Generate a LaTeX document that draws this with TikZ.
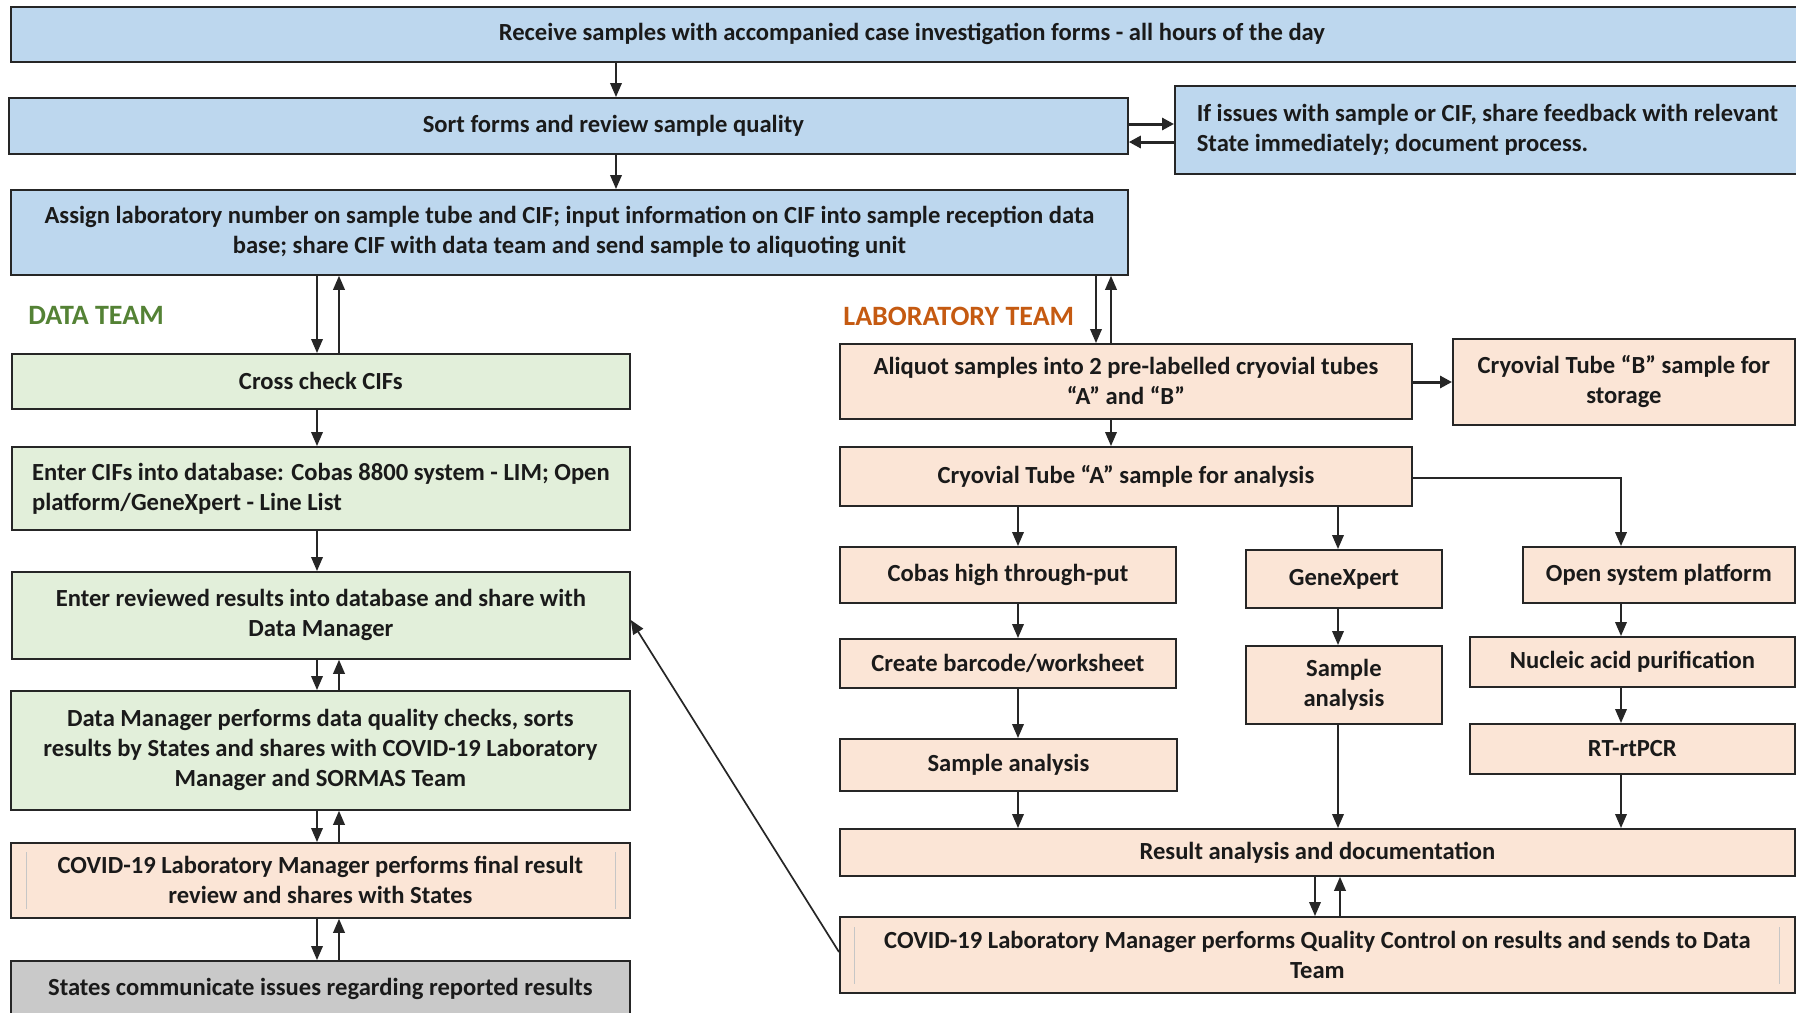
\documentclass[tikz,border=0pt]{standalone}
\usepackage{fontspec}
\setmainfont{Carlito}
\usetikzlibrary{arrows.meta,calc}
\definecolor{bluef}{HTML}{BDD7EE}
\definecolor{greenf}{HTML}{E2EFDA}
\definecolor{peachf}{HTML}{FBE5D6}
\definecolor{grayf}{HTML}{C9C9C9}
\definecolor{datagreen}{HTML}{548235}
\definecolor{laborange}{HTML}{C55A11}
\definecolor{edgec}{HTML}{262626}
\definecolor{txt}{HTML}{1A1A1A}
\newcommand\flowbox[7]{\node[#2, anchor=north west, minimum width={(#5-#3)*0.5pt}, minimum height={(#6-#4)*0.5pt}] (#1) at (#3,#4) {#7};}
\tikzset{
  box/.style={draw=edgec, line width=0.9pt, inner sep=2pt, align=center, text=txt},
  bluebox/.style={box, fill=bluef},
  greenbox/.style={box, fill=greenf},
  peachbox/.style={box, fill=peachf},
  graybox/.style={box, fill=grayf},
  arr/.style={draw=edgec, line width=0.85pt, -{Triangle[length=7pt,width=5.8pt]}},
  thickarr/.style={draw=edgec, line width=1.5pt, -{Triangle[length=6pt,width=6pt]}},
  faint/.style={draw=gray!45, line width=0.4pt},
  teamlabel/.style={font=\fontsize{14}{16}\selectfont\bfseries, anchor=west, inner sep=0pt}
}
\begin{document}
\begin{tikzpicture}[x=0.5pt, y=-0.5pt, font=\fontsize{12.3}{15}\selectfont\bfseries]
\useasboundingbox (0,0) rectangle (1796,1013);
\clip (0,0) rectangle (1796,1013);
\fill[white] (0,0) rectangle (1796,1013);

% top (blue) boxes
\flowbox{recv}{bluebox}{10}{6}{1812}{61}{Receive samples with accompanied case investigation forms - all hours of the day}
\flowbox{sort}{bluebox}{8}{97}{1127}{153}{\hspace*{45pt}Sort forms and review sample quality}
\flowbox{issues}{bluebox, align=left}{1174}{85}{1799}{173}{If issues with sample or CIF, share feedback with relevant\\State immediately; document process.}
\flowbox{assign}{bluebox}{10}{189}{1127}{274}{Assign laboratory number on sample tube and CIF; input information on CIF into sample reception data\\base; share CIF with data team and send sample to aliquoting unit}

% team labels
\node[teamlabel, text=datagreen] (dteam) at (28,315) {DATA TEAM};
\node[teamlabel, text=laborange] (lteam) at (843,316) {LABORATORY TEAM};

% data team
\flowbox{cross}{greenbox}{11}{353}{629}{408}{Cross check CIFs}
\flowbox{entercif}{greenbox, align=left}{11}{446}{629}{529}{Enter CIFs into database: Cobas 8800 system - LIM; Open\\platform/GeneXpert - Line List}
\flowbox{enterrev}{greenbox}{11}{571}{629}{658}{Enter reviewed results into database and share with\\Data Manager}
\flowbox{dm}{greenbox}{10}{690}{629}{809}{Data Manager performs data quality checks, sorts\\results by States and shares with COVID-19 Laboratory\\Manager and SORMAS Team}
\flowbox{final}{peachbox}{10}{842}{629}{917}{COVID-19 Laboratory Manager performs final result\\review and shares with States}
\flowbox{states}{graybox}{10}{960}{629}{1016}{States communicate issues regarding reported results}
\draw[faint] ($(final.north west)+(16,10)$) -- ($(final.south west)+(16,-10)$);
\draw[faint] ($(final.north east)+(-15,10)$) -- ($(final.south east)+(-15,-10)$);

% laboratory team
\flowbox{aliquot}{peachbox}{839}{343}{1411}{418}{Aliquot samples into 2 pre-labelled cryovial tubes\\“A” and “B”}
\flowbox{tubeB}{peachbox}{1452}{338}{1794}{424}{Cryovial Tube “B” sample for\\storage}
\flowbox{tubeA}{peachbox}{839}{446}{1411}{505}{Cryovial Tube “A” sample for analysis}
\flowbox{cobas}{peachbox}{839}{546}{1175}{602}{Cobas high through-put}
\flowbox{genex}{peachbox}{1245}{549}{1441}{607}{GeneXpert}
\flowbox{open}{peachbox}{1522}{546}{1794}{602}{Open system platform}
\flowbox{barcode}{peachbox}{839}{638}{1175}{687}{Create barcode/worksheet}
\flowbox{gsa}{peachbox}{1245}{645}{1441}{723}{Sample\\analysis}
\flowbox{nucleic}{peachbox}{1469}{636}{1794}{686}{Nucleic acid purification}
\flowbox{rtpcr}{peachbox}{1469}{723}{1794}{773}{RT-rtPCR}
\flowbox{csa}{peachbox}{839}{738}{1176}{790}{Sample analysis}
\flowbox{result}{peachbox}{839}{828}{1794}{875}{Result analysis and documentation}
\flowbox{qc}{peachbox}{839}{916}{1794}{992}{COVID-19 Laboratory Manager performs Quality Control on results and sends to Data\\Team}
\draw[faint] ($(qc.north west)+(15,11)$) -- ($(qc.south west)+(15,-10)$);
\draw[faint] ($(qc.north east)+(-16,11)$) -- ($(qc.south east)+(-16,-10)$);

% guide coordinates
\coordinate (xa) at (616,0);
\coordinate (xd1) at (317,0);
\coordinate (xd2) at (339,0);
\coordinate (xl1) at (1096,0);
\coordinate (xl2) at (1111,0);
\coordinate (xc) at (1018,0);
\coordinate (xg) at (1338,0);
\coordinate (xo) at (1621,0);
\coordinate (xr1) at (1315,0);
\coordinate (xr2) at (1340,0);
\coordinate (ys1) at (0,124);
\coordinate (ys2) at (0,142);
\coordinate (yb) at (0,382);
\coordinate (ybr) at (0,478);
\coordinate (yq) at (0,952);
\coordinate (ye) at (0,620);

% connectors: top
\draw[arr] (recv.south -| xa) -- (sort.north -| xa);
\draw[arr] (sort.south -| xa) -- (assign.north -| xa);
\draw[thickarr] (sort.east |- ys1) -- (issues.west |- ys1);
\draw[thickarr] (issues.west |- ys2) -- (sort.east |- ys2);

% connectors: data team
\draw[arr] (assign.south -| xd1) -- (cross.north -| xd1);
\draw[arr] (cross.north -| xd2) -- (assign.south -| xd2);
\draw[arr] (cross.south -| xd1) -- (entercif.north -| xd1);
\draw[arr] (entercif.south -| xd1) -- (enterrev.north -| xd1);
\draw[arr] (enterrev.south -| xd1) -- (dm.north -| xd1);
\draw[arr] (dm.north -| xd2) -- (enterrev.south -| xd2);
\draw[arr] (dm.south -| xd1) -- (final.north -| xd1);
\draw[arr] (final.north -| xd2) -- (dm.south -| xd2);
\draw[arr] (final.south -| xd1) -- (states.north -| xd1);
\draw[arr] (states.north -| xd2) -- (final.south -| xd2);

% connectors: laboratory team
\draw[arr] (assign.south -| xl1) -- (aliquot.north -| xl1);
\draw[arr] (aliquot.north -| xl2) -- (assign.south -| xl2);
\draw[thickarr] (aliquot.east |- yb) -- (tubeB.west |- yb);
\draw[arr] (aliquot.south -| xl2) -- (tubeA.north -| xl2);
\draw[arr] (tubeA.south -| xc) -- (cobas.north -| xc);
\draw[arr] (tubeA.south -| xg) -- (genex.north -| xg);
\draw[arr, line width=1pt] (tubeA.east |- ybr) -| (open.north -| xo);
\draw[arr] (cobas.south -| xc) -- (barcode.north -| xc);
\draw[arr] (barcode.south -| xc) -- (csa.north -| xc);
\draw[arr] (csa.south -| xc) -- (result.north -| xc);
\draw[arr] (genex.south -| xg) -- (gsa.north -| xg);
\draw[arr] (gsa.south -| xg) -- (result.north -| xg);
\draw[arr] (open.south -| xo) -- (nucleic.north -| xo);
\draw[arr] (nucleic.south -| xo) -- (rtpcr.north -| xo);
\draw[arr] (rtpcr.south -| xo) -- (result.north -| xo);
\draw[arr] (result.south -| xr1) -- (qc.north -| xr1);
\draw[arr] (qc.north -| xr2) -- (result.south -| xr2);
\draw[arr] (qc.west |- yq) -- (enterrev.east |- ye);
\end{tikzpicture}
\end{document}
